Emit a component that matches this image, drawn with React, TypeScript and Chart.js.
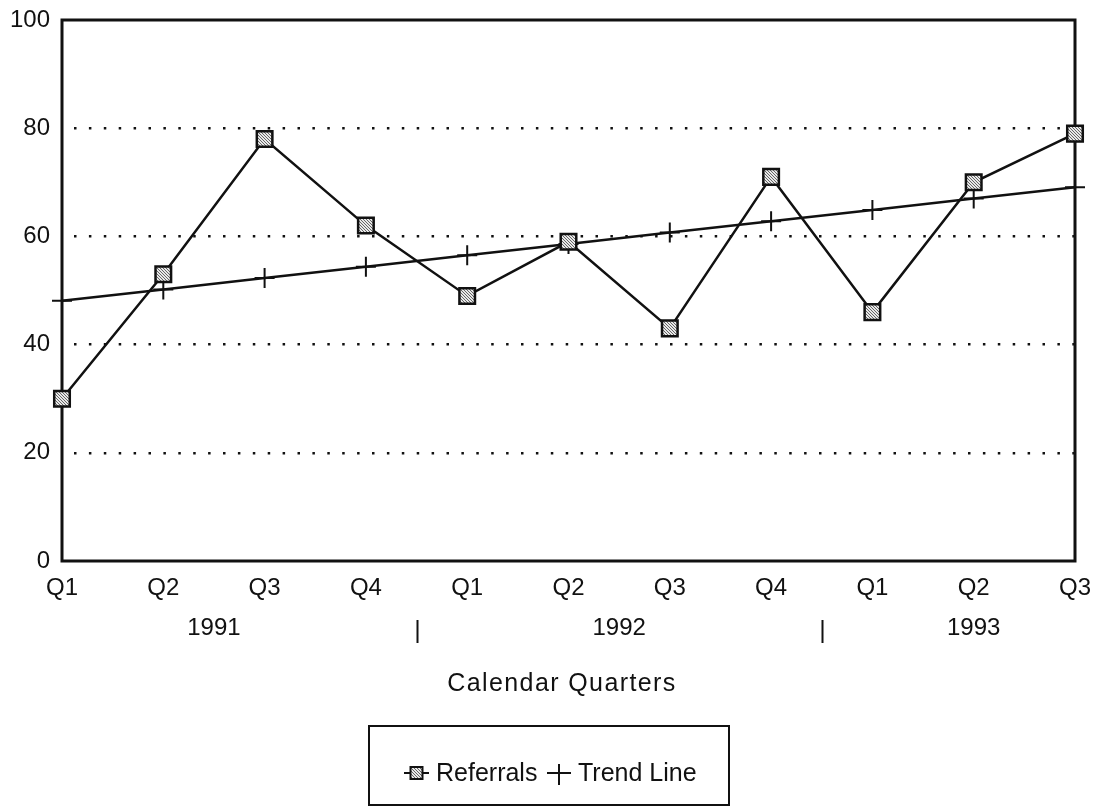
import React, { useEffect, useRef } from 'react';
import { Chart, registerables } from 'chart.js';

Chart.register(...registerables);

const quarters = ['Q1', 'Q2', 'Q3', 'Q4', 'Q1', 'Q2', 'Q3', 'Q4', 'Q1', 'Q2', 'Q3'];
const referrals = [30, 53, 78, 62, 49, 59, 43, 71, 46, 70, 79];
const trendLine = [48.1, 50.2, 52.3, 54.4, 56.5, 58.6, 60.7, 62.8, 64.9, 67.0, 69.1];
const yearLabels = ['1991', '1992', '1993'];
const yearAt = [1.5, 5.5, 9];
const yearBreaks = [3.5, 7.5];
const xTitle = 'Calendar Quarters';
const legendNames = ['Referrals', 'Trend Line'];

const FONT = '"Liberation Sans", Arial, Helvetica, sans-serif';
const INK = '#111111';

function makePattern(): CanvasPattern | string {
  const pc = document.createElement('canvas');
  pc.width = 3;
  pc.height = 3;
  const c = pc.getContext('2d');
  if (!c) return '#bbbbbb';
  c.fillStyle = '#e8e8e8';
  c.fillRect(0, 0, 3, 3);
  c.fillStyle = '#666666';
  c.fillRect(0, 0, 1, 1);
  c.fillRect(1, 1, 1, 1);
  c.fillRect(2, 2, 1, 1);
  const p = c.createPattern(pc, 'repeat');
  return p || '#bbbbbb';
}

export default function App() {
  const ref = useRef<HTMLCanvasElement | null>(null);

  useEffect(() => {
    document.body.style.margin = '0';
    const canvas = ref.current;
    if (!canvas) return;
    const pattern = makePattern();

    const decor = {
      id: 'decor',
      beforeDatasetsDraw(chart: any) {
        const { ctx, chartArea } = chart;
        const { left, top, right, bottom } = chartArea;
        ctx.save();
        ctx.strokeStyle = INK;
        ctx.lineWidth = 3;
        ctx.strokeRect(left, top, right - left, bottom - top);
        ctx.restore();
      },
      afterDraw(chart: any) {
        const { ctx } = chart;
        const xs = chart.scales.x;
        ctx.save();
        ctx.fillStyle = INK;
        ctx.strokeStyle = INK;
        ctx.font = `24px ${FONT}`;
        ctx.textAlign = 'center';
        ctx.textBaseline = 'middle';
        yearLabels.forEach((lab, i) => {
          ctx.fillText(lab, xs.getPixelForValue(yearAt[i]), 628);
        });
        ctx.lineWidth = 2;
        yearBreaks.forEach((v) => {
          const px = Math.round(xs.getPixelForValue(v)) + 0.5;
          ctx.beginPath();
          ctx.moveTo(px, 620);
          ctx.lineTo(px, 643);
          ctx.stroke();
        });
        // axis title
        ctx.font = `25px ${FONT}`;
        (ctx as any).letterSpacing = '1.4px';
        ctx.fillText(xTitle, 562, 684);
        (ctx as any).letterSpacing = '0px';

        // legend box
        ctx.lineWidth = 2;
        ctx.strokeRect(369, 726, 360, 79);
        const ly = 773;
        // referrals icon
        ctx.lineWidth = 2;
        ctx.beginPath();
        ctx.moveTo(404, ly);
        ctx.lineTo(429, ly);
        ctx.stroke();
        ctx.fillStyle = pattern as any;
        ctx.fillRect(410.5, ly - 6, 12, 12);
        ctx.strokeRect(410.5, ly - 6, 12, 12);
        // trend icon
        ctx.beginPath();
        ctx.moveTo(547, ly);
        ctx.lineTo(571, ly);
        ctx.moveTo(559, ly - 9);
        ctx.lineTo(559, ly + 12);
        ctx.stroke();
        ctx.fillStyle = INK;
        ctx.font = `25px ${FONT}`;
        ctx.textAlign = 'left';
        ctx.fillText(legendNames[0], 436, ly + 1);
        ctx.fillText(legendNames[1], 578, ly + 1);
        ctx.restore();
      },
    };

    const chart = new Chart(canvas, {
      type: 'line',
      data: {
        labels: quarters,
        datasets: [
          {
            label: legendNames[0],
            data: referrals,
            borderColor: INK,
            borderWidth: 2.5,
            pointStyle: 'rect',
            pointRadius: 11,
            pointBorderWidth: 2.5,
            pointBorderColor: INK,
            pointBackgroundColor: pattern as any,
            tension: 0,
            clip: false as any,
          },
          {
            label: legendNames[1],
            data: trendLine,
            borderColor: INK,
            borderWidth: 2.5,
            pointStyle: 'cross',
            pointRadius: 10,
            pointBorderWidth: 2,
            pointBorderColor: INK,
            tension: 0,
            clip: false as any,
          },
        ],
      },
      options: {
        responsive: false,
        animation: false,
        layout: { padding: { top: 20, right: 21, left: 0, bottom: 0 } },
        plugins: {
          legend: { display: false },
          tooltip: { enabled: false },
        },
        scales: {
          x: {
            type: 'category',
            grid: { display: false, drawTicks: false },
            border: { display: false },
            ticks: {
              color: INK,
              padding: 13,
              maxRotation: 0,
              autoSkip: false,
              font: { family: FONT, size: 24 },
            },
            afterFit: (s: any) => {
              s.height = 246;
              s.paddingLeft = 0;
              s.paddingRight = 0;
            },
          },
          y: {
            min: 0,
            max: 100,
            grid: {
              drawTicks: false,
              lineWidth: 2.5,
              color: (c: any) =>
                c.tick && (c.tick.value === 0 || c.tick.value === 100) ? 'rgba(0,0,0,0)' : INK,
            },
            border: { display: false, dash: [2.5, 12.4], dashOffset: -12 },
            ticks: {
              stepSize: 20,
              color: INK,
              padding: 12,
              font: { family: FONT, size: 24 },
            },
            afterFit: (s: any) => {
              s.width = 62;
              s.paddingTop = 0;
              s.paddingBottom = 0;
            },
          },
        },
      },
      plugins: [decor],
    });

    return () => chart.destroy();
  }, []);

  return (
    <div style={{ width: 1096, height: 807, background: '#fff' }}>
      <canvas ref={ref} width={1096} height={807} style={{ display: 'block' }} />
    </div>
  );
}
